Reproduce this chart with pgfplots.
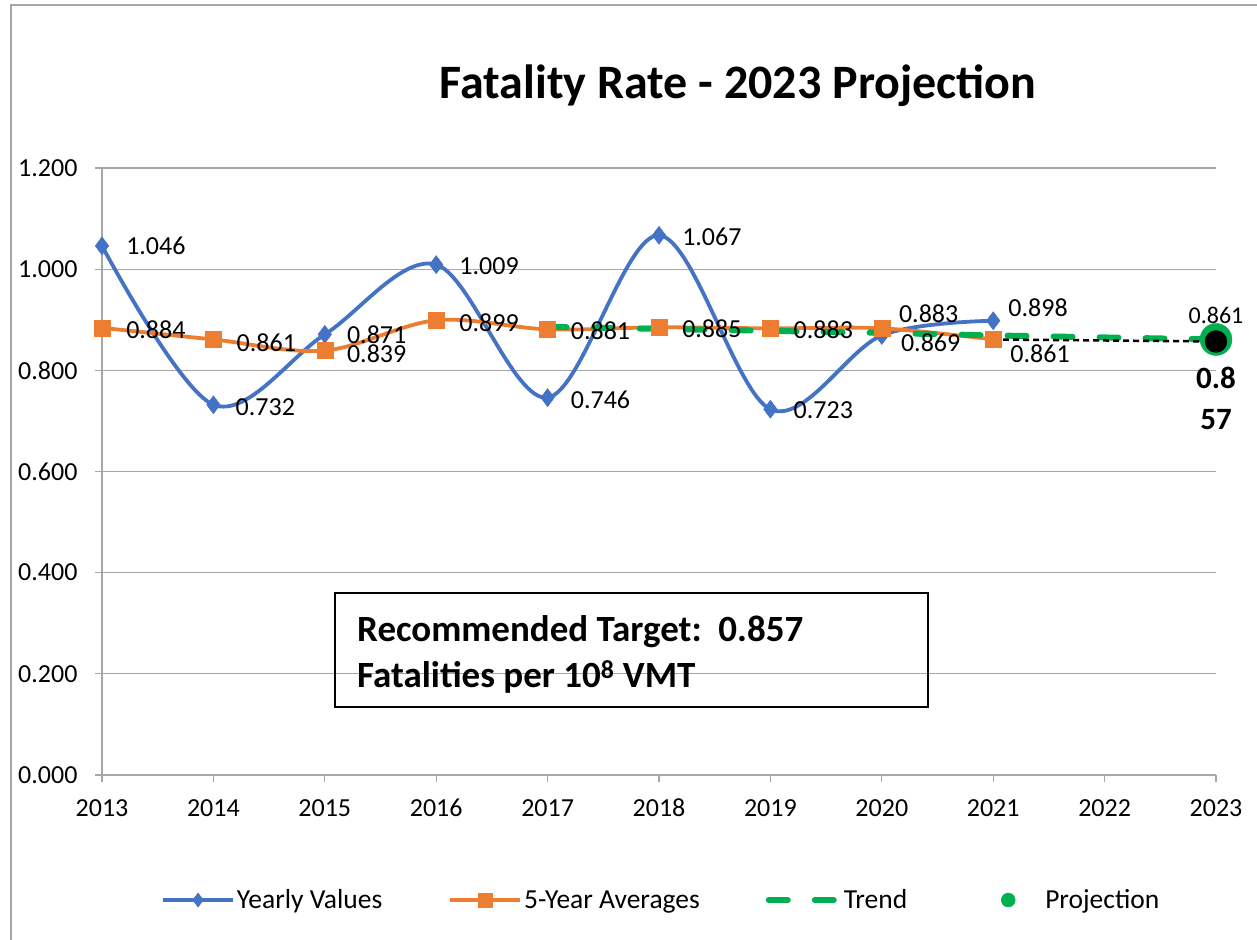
\documentclass[border=0pt]{standalone}
\usepackage{fontspec}
\setmainfont{Carlito}
\usepackage{pgfplots}
\usepackage{pgfplotstable}
\pgfplotsset{compat=1.18}
\definecolor{xlblue}{HTML}{4472C4}
\definecolor{xlorange}{HTML}{ED7D31}
\definecolor{xlgreen}{HTML}{00B050}
\definecolor{xlgrid}{HTML}{A6A6A6}
\pgfplotsset{mylegend/.style={legend image code/.code={\path[draw=none,fill=none] (0pt,-1pt) rectangle (70pt,1pt);\draw[mark repeat=2,mark phase=2,##1,mark size=7pt] plot coordinates {(0pt,0pt) (35pt,0pt) (70pt,0pt)};}}}
\newcommand{\lblfont}{\fontsize{26}{30}\selectfont}

\pgfplotstableread{
x y lab dx dy
2013 1.046 1.046 24 0
2014 0.732 0.732 22 -2
2015 0.871 0.871 22 0
2016 1.009 1.009 23 -2
2017 0.746 0.746 23 -2
2018 1.067 1.067 23 -2
2019 0.723 0.723 23 -1
2020 0.869 0.869 19 -7
2021 0.898 0.898 15 13
}\yearly

\pgfplotstableread{
x y lab dx dy
2013 0.884 0.884 24 -2
2014 0.861 0.861 23 -3
2015 0.839 0.839 22 -3
2016 0.899 0.899 23 -2
2017 0.881 0.881 23 -1
2018 0.885 0.885 23 -1
2019 0.883 0.883 23 -1
2020 0.883 0.883 17 15
2021 0.861 0.861 17 -14
}\avg

\pgfplotstableread{
x y
2017 0.886
2018 0.882
2019 0.878
2020 0.874
2021 0.869
2022 0.865
2023 0.861
}\trend

\pgfplotstableread{
x y lab
2023 0.861 0.861
}\proj

\pgfplotstableread{
x y
2021 0.861
2023 0.857
}\target

\pgfplotstableread{
x y
2023 0.857
}\targetpt

\begin{document}
\begin{tikzpicture}
\useasboundingbox (0pt,0pt) rectangle (1257pt,939pt);
\draw[xlgrid, line width=1.5pt] (11pt,-2pt) -- (11pt,934pt) -- (1259pt,934pt);
\begin{axis}[
  at={(102pt,164pt)}, anchor=south west,
  scale only axis, width=1114pt, height=607pt,
  xmin=2013, xmax=2023, ymin=0, ymax=1.2,
  clip=false,
  axis x line*=bottom, axis y line*=left,
  axis line style={xlgrid, line width=1.3pt},
  tick style={xlgrid, line width=1.3pt},
  tick align=outside, major tick length=7pt,
  xtick={2013,2014,2015,2016,2017,2018,2019,2020,2021,2022,2023},
  xticklabels={2013,2014,2015,2016,2017,2018,2019,2020,2021,2022,2023},
  ytick={0,0.2,0.4,0.6,0.8,1.0,1.2},
  yticklabels={0.000,0.200,0.400,0.600,0.800,1.000,1.200},
  ymajorgrids, grid style={xlgrid, line width=1.3pt},
  tick label style={font=\lblfont, black},
  xticklabel style={anchor=base, yshift=-35pt},
  yticklabel style={xshift=-14pt},
  legend columns=4,
  legend style={at={(0.502,-0.206)}, anchor=center, draw=none, fill=none,
    font=\fontsize{27.5}{31}\selectfont, /tikz/every even column/.append style={column sep=64pt}},
]
\addplot[xlblue, line width=3.8pt, smooth, tension=0.55, mark=diamond*, mark size=9pt,
  mark options={solid, line width=0.5pt, fill=xlblue}, mylegend,
  nodes near coords, point meta=explicit symbolic,
  visualization depends on={\thisrow{dx}\as\dx},
  visualization depends on={\thisrow{dy}\as\dy},
  nodes near coords style={anchor=west, black, font=\lblfont, inner sep=0pt, xshift=\dx pt, yshift=\dy pt}]
  table[x=x, y=y, meta=lab] {\yearly};
\addlegendentry{Yearly Values}
\addplot[xlorange, line width=3.8pt, smooth, tension=0.55, mark=square*, mark size=8pt,
  mark options={solid, line width=0.5pt, fill=xlorange}, mylegend,
  nodes near coords, point meta=explicit symbolic,
  visualization depends on={\thisrow{dx}\as\dx},
  visualization depends on={\thisrow{dy}\as\dy},
  nodes near coords style={anchor=west, black, font=\lblfont, inner sep=0pt, xshift=\dx pt, yshift=\dy pt}]
  table[x=x, y=y, meta=lab] {\avg};
\addlegendentry{5-Year Averages}
\addplot[xlgreen, line width=6pt, line cap=round, dash pattern=on 19pt off 27pt, mark=none, mylegend]
  table[x=x, y=y] {\trend};
\addlegendentry{Trend}
\addplot[only marks, mark=*, mark size=16pt, xlgreen, mark options={fill=xlgreen}, mylegend,
  nodes near coords, point meta=explicit symbolic,
  nodes near coords style={anchor=center, black, font=\fontsize{24}{28}\selectfont, inner sep=0pt, yshift=24pt}]
  table[x=x, y=y, meta=lab] {\proj};
\addlegendentry{Projection}
\addplot[black, line width=2.5pt, dash pattern=on 6pt off 4pt, forget plot] table[x=x,y=y] {\target};
\addplot[only marks, mark=*, mark size=11pt, black, forget plot] table[x=x,y=y] {\targetpt};
\node[font=\bfseries\fontsize{31}{41}\selectfont, align=center, anchor=center] at (axis cs:2023,0.857) [yshift=-57pt] {0.8\\57};
\end{axis}
\node[font=\bfseries\fontsize{48}{54}\selectfont, anchor=base] at (738pt,840pt) {Fatality Rate - 2023 Projection};
\draw[black, line width=2.5pt] (335pt,346pt) rectangle (928pt,232pt);
\node[font=\bfseries\fontsize{37}{42}\selectfont, anchor=base west, inner sep=0pt] at (357pt,297pt) {Recommended Target:\ \ 0.857};
\node[font=\bfseries\fontsize{37}{42}\selectfont, anchor=base west, inner sep=0pt] at (357pt,251pt) {Fatalities per 10\textsuperscript{8} VMT};
\end{tikzpicture}
\end{document}
